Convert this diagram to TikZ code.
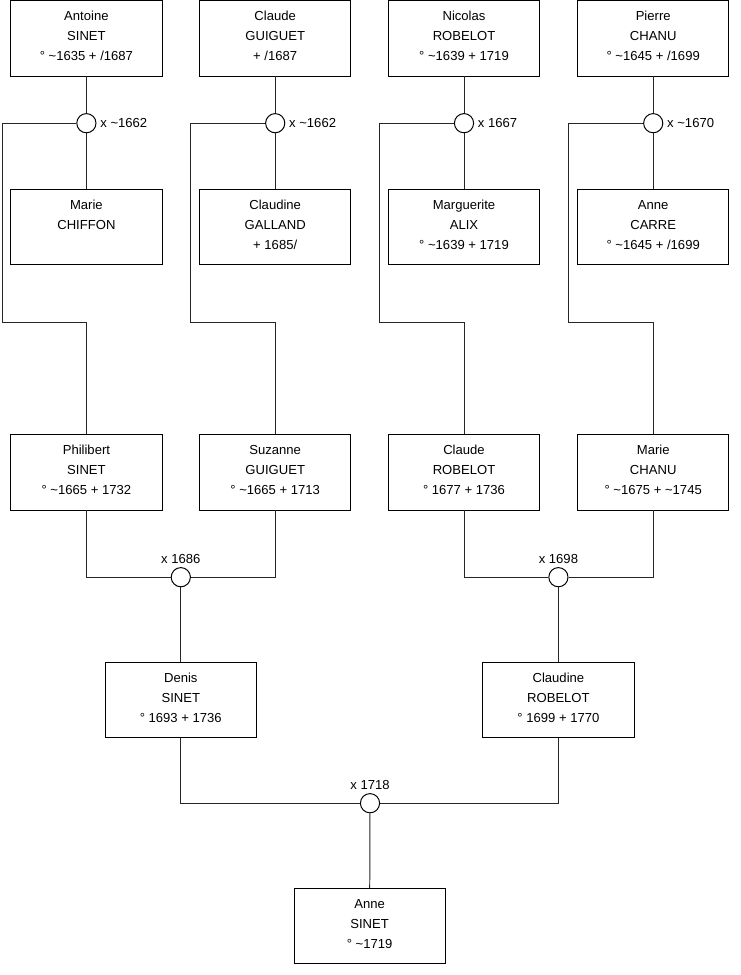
\documentclass[tikz,border=0pt]{standalone}
\usepackage{fontspec}
\setmainfont{Liberation Sans}
\usepackage{tikz}
\usetikzlibrary{positioning}

\begin{document}
\begin{tikzpicture}[
      person/.style={draw, align=center, font=\fontsize{9.3}{14.2}\selectfont,
        minimum width=3.78cm, minimum height=1.88cm, inner sep=2pt, text depth=0.11cm,
        line width=0.7pt},
      union/.style={draw, circle, fill=white, minimum size=0.48cm, inner sep=0pt, line width=0.7pt},
      date/.style={font=\fontsize{9.3}{10}\selectfont, inner sep=0pt},
      link/.style={line width=0.7pt, black!85}
    ]
    \useasboundingbox (0,0) rectangle (18.5,-24.375);

    % first generation
    \node[person] (antoine) at (2.16,-0.96) {Antoine\\SINET\\° \textasciitilde1635 + /1687};
    \node[person] (claudeg) at (6.88,-0.96) {Claude\\GUIGUET\\+ /1687};
    \node[person] (nicolas) at (11.60,-0.96) {Nicolas\\ROBELOT\\° \textasciitilde1639 + 1719};
    \node[person] (pierre) at (16.33,-0.96) {Pierre\\CHANU\\° \textasciitilde1645 + /1699};

    \node[person] (marie) at (2.16,-5.68) {Marie\\CHIFFON\\\mbox{}};
    \node[person] (claudine) at (6.88,-5.68) {Claudine\\GALLAND\\+ 1685/};
    \node[person] (marguerite) at (11.60,-5.68) {Marguerite\\ALIX\\° \textasciitilde1639 + 1719};
    \node[person] (annec) at (16.33,-5.68) {Anne\\CARRE\\° \textasciitilde1645 + /1699};

    \node[union] (u1) at (2.16,-3.08) {};
    \node[union] (u2) at (6.88,-3.08) {};
    \node[union] (u3) at (11.60,-3.08) {};
    \node[union] (u4) at (16.33,-3.08) {};
    \node[date, right=0.09cm of u1] (d1) {x \textasciitilde1662};
    \node[date, right=0.09cm of u2] (d2) {x \textasciitilde1662};
    \node[date, right=0.09cm of u3] (d3) {x 1667};
    \node[date, right=0.09cm of u4] (d4) {x \textasciitilde1670};

    \draw[link] (antoine) -- (u1);
    \draw[link] (u1) -- (marie);
    \draw[link] (claudeg) -- (u2);
    \draw[link] (u2) -- (claudine);
    \draw[link] (nicolas) -- (u3);
    \draw[link] (u3) -- (marguerite);
    \draw[link] (pierre) -- (u4);
    \draw[link] (u4) -- (annec);

    % second generation
    \node[person] (philibert) at (2.16,-11.81) {Philibert\\SINET\\° \textasciitilde1665 + 1732};
    \node[person] (suzanne) at (6.88,-11.81) {Suzanne\\GUIGUET\\° \textasciitilde1665 + 1713};
    \node[person] (clauder) at (11.60,-11.81) {Claude\\ROBELOT\\° 1677 + 1736};
    \node[person] (mariec) at (16.33,-11.81) {Marie\\CHANU\\° \textasciitilde1675 + \textasciitilde1745};

    \coordinate (k1) at (0.05,-8.05);
    \coordinate (k2) at (4.77,-8.05);
    \coordinate (k3) at (9.48,-8.05);
    \coordinate (k4) at (14.21,-8.05);
    \draw[link] (u1) -| (k1) -| (philibert);
    \draw[link] (u2) -| (k2) -| (suzanne);
    \draw[link] (u3) -| (k3) -| (clauder);
    \draw[link] (u4) -| (k4) -| (mariec);

    \node[union] (u5) at (4.52,-14.43) {};
    \node[union] (u6) at (13.96,-14.43) {};
    \node[date, above=0.08cm of u5] (d5) {x 1686};
    \node[date, above=0.08cm of u6] (d6) {x 1698};
    \draw[link] (philibert) |- (u5);
    \draw[link] (suzanne) |- (u5);
    \draw[link] (clauder) |- (u6);
    \draw[link] (mariec) |- (u6);

    % third generation
    \node[person] (denis) at (4.52,-17.49) {Denis\\SINET\\° 1693 + 1736};
    \node[person] (claudiner) at (13.96,-17.49) {Claudine\\ROBELOT\\° 1699 + 1770};
    \draw[link] (u5) -- (denis);
    \draw[link] (u6) -- (claudiner);

    \node[union] (u7) at (9.25,-20.08) {};
    \node[date, above=0.08cm of u7] (d7) {x 1718};
    \draw[link] (denis) |- (u7);
    \draw[link] (claudiner) |- (u7);

    \node[person] (anne) at (9.24,-23.15) {Anne\\SINET\\° \textasciitilde1719};
    \draw[link] (u7) -- (anne);
  \end{tikzpicture}
\end{document}
